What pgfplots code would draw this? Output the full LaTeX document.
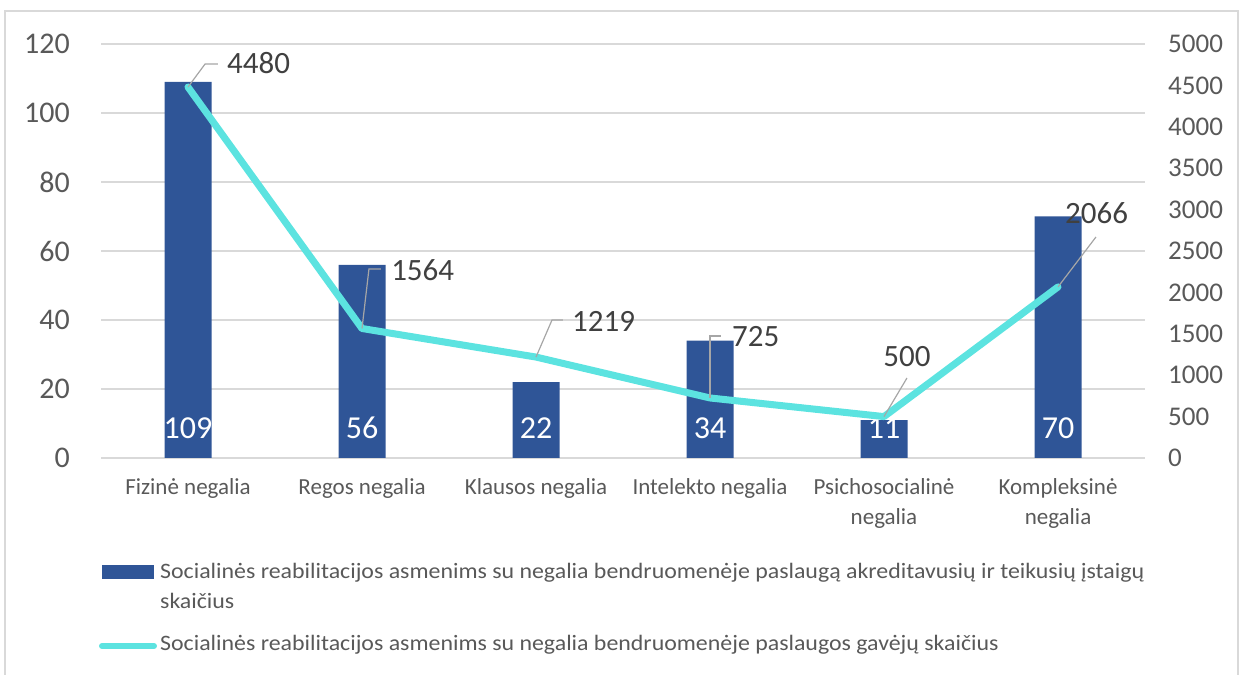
\documentclass[border=0pt]{standalone}
\usepackage{fontspec}
\setmainfont{Carlito}
\newfontfamily\legendfont[FakeStretch=1.085]{Carlito}
\usepackage{pgfplots}
\pgfplotsset{compat=1.18}
\definecolor{barblue}{HTML}{2F5597}
\definecolor{linecyan}{HTML}{5CE3E0}
\definecolor{gridgray}{HTML}{D9D9D9}
\definecolor{ticktext}{HTML}{595959}
\definecolor{labtext}{HTML}{404040}
\definecolor{leadgray}{HTML}{A6A6A6}
\begin{document}
\begin{tikzpicture}
\path[use as bounding box] (0bp,0bp) rectangle (1239bp,675bp);
\draw[gridgray, line width=1.5bp] (5bp,-5bp) -- (5bp,664bp) -- (1238bp,664bp) -- (1238bp,-5bp);
\begin{axis}[
  at={(101bp,217bp)}, anchor=south west,
  scale only axis, width=1044bp, height=414bp,
  xmin=-0.5, xmax=5.5, ymin=0, ymax=120,
  ytick={0,20,...,120}, xtick={0,...,5},
  xticklabels={Fizinė negalia, Regos negalia, Klausos negalia, Intelekto negalia, {Psichosocialinė\\negalia}, {Kompleksinė\\negalia}},
  ytick pos=left, xtick pos=bottom,
  major tick length=0pt,
  axis line style={draw=none},
  ymajorgrids, grid style={gridgray, line width=1.5bp},
  /pgf/number format/assume math mode=true,
  yticklabel style={font=\fontsize{30bp}{36bp}\selectfont, text=ticktext, inner sep=0pt, anchor=east, xshift=-31bp},
  xticklabel style={font=\fontsize{23bp}{30bp}\selectfont, text=ticktext, inner sep=0pt, anchor=north, align=center, yshift=-20bp},
  ybar, bar width=47bp,
  nodes near coords,
  visualization depends on={y \as \rawy},
  every node near coord/.append style={text=white, font=\fontsize{32bp}{36bp}\selectfont, anchor=center, inner sep=0pt, yshift={30bp-3.45bp*\rawy}},
]
\addplot[fill=barblue, draw=none] coordinates {(0,109) (1,56) (2,22) (3,34) (4,11) (5,70)};
\end{axis}
\begin{axis}[
  at={(101bp,217bp)}, anchor=south west,
  scale only axis, width=1044bp, height=414bp,
  xmin=-0.5, xmax=5.5, ymin=0, ymax=5000,
  ytick={0,500,...,5000},
  axis y line*=right, axis x line=none,
  major tick length=0pt,
  axis line style={draw=none},
  /pgf/number format/assume math mode=true,
  /pgf/number format/set thousands separator={},
  yticklabel style={font=\fontsize{27bp}{32bp}\selectfont, text=ticktext, inner sep=0pt, anchor=west, xshift=23bp},
  clip=false,
]
\addplot[linecyan, line width=7bp, line join=round, line cap=round, mark=none] coordinates {(0,4480) (1,1564) (2,1219) (3,725) (4,500) (5,2066)};
% leader lines and labels
\draw[leadgray, line width=1.2bp] (axis cs:0,4480) -- (axis cs:0.098,4758) -- (axis cs:0.172,4758);
\node[font=\fontsize{31bp}{36bp}\selectfont, text=labtext, anchor=west, inner sep=0pt] at (axis cs:0.224,4771) {4480};
\draw[leadgray, line width=1.2bp] (axis cs:1,1564) -- (axis cs:1.040,2283) -- (axis cs:1.109,2283);
\node[font=\fontsize{31bp}{36bp}\selectfont, text=labtext, anchor=west, inner sep=0pt] at (axis cs:1.167,2271) {1564};
\draw[leadgray, line width=1.2bp] (axis cs:2,1219) -- (axis cs:2.092,1667) -- (axis cs:2.155,1667);
\node[font=\fontsize{31bp}{36bp}\selectfont, text=labtext, anchor=west, inner sep=0pt] at (axis cs:2.207,1646) {1219};
\draw[leadgray, line width=1.2bp] (axis cs:3,725) -- (axis cs:3,1473) -- (axis cs:3.063,1473);
\node[font=\fontsize{31bp}{36bp}\selectfont, text=labtext, anchor=west, inner sep=0pt] at (axis cs:3.126,1461) {725};
\draw[leadgray, line width=1.2bp] (axis cs:4,500) -- (axis cs:4.132,966);
\node[font=\fontsize{31bp}{36bp}\selectfont, text=labtext, anchor=center, inner sep=0pt] at (axis cs:4.132,1220) {500};
\draw[leadgray, line width=1.2bp] (axis cs:5,2066) -- (axis cs:5.218,2669);
\node[font=\fontsize{31bp}{36bp}\selectfont, text=labtext, anchor=west, inner sep=0pt] at (axis cs:5.040,2959) {2066};
\end{axis}
% legend
\fill[barblue] (102bp,96bp) rectangle (154bp,110bp);
\node[anchor=base west, inner sep=0pt, font=\legendfont\fontsize{22bp}{30bp}\selectfont, text=ticktext] at (160bp,96bp) {Socialinės reabilitacijos asmenims su negalia bendruomenėje paslaugą akreditavusių ir teikusių įstaigų};
\node[anchor=base west, inner sep=0pt, font=\legendfont\fontsize{22bp}{30bp}\selectfont, text=ticktext] at (160bp,66bp) {skaičius};
\draw[linecyan, line width=6bp, line cap=round] (102bp,29bp) -- (154bp,29bp);
\node[anchor=base west, inner sep=0pt, font=\legendfont\fontsize{22bp}{30bp}\selectfont, text=ticktext] at (160bp,25bp) {Socialinės reabilitacijos asmenims su negalia bendruomenėje paslaugos gavėjų skaičius};
\end{tikzpicture}
\end{document}
